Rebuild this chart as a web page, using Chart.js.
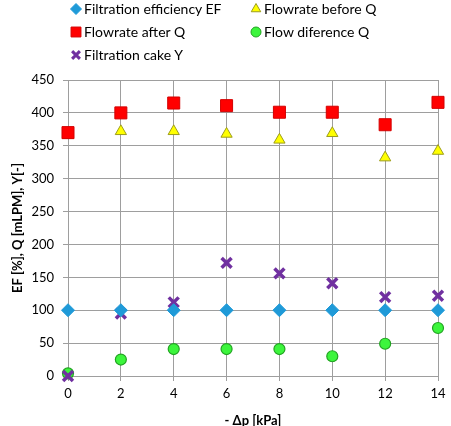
<!DOCTYPE html>
<html><head><meta charset="utf-8">
<script src="https://cdn.jsdelivr.net/npm/chart.js@4/dist/chart.umd.min.js"></script>
<style>
html,body{margin:0;padding:0;background:#fff;overflow:hidden;}
#wrap{position:relative;width:451px;height:426px;overflow:hidden;background:#fff;}
#c{position:absolute;left:0;top:0;}
#legend{position:absolute;left:0;top:0;width:451px;height:70px;font-family:Lato,"Open Sans",sans-serif;font-size:14px;color:#000;}
.item{position:absolute;white-space:nowrap;line-height:16px;height:16px;}
.item canvas{position:absolute;left:0;top:0;}
.item span{position:absolute;top:0;}
</style></head><body>
<div id="wrap"><canvas id="c" width="451" height="436" style="width:451px;height:436px"></canvas><div id="legend"></div></div>
<script>
// ---- data ----
const pressure   = [0, 2, 4, 6, 8, 10, 12, 14];              // - Δp [kPa]
const efficiency = [100, 100, 100, 100, 100, 100, 100, 100];  // EF [%]
const flowBefore = [366, 372, 372, 368, 359, 369, 332, 342];  // Q [mLPM]
const flowAfter  = [370, 400, 415, 411, 401, 401, 382, 416];  // Q [mLPM]
const flowDiff   = [4, 25, 41, 41, 41, 30, 49, 73];           // Q [mLPM]
const cake       = [0, 95, 112, 172, 156, 141, 120, 122];     // Y [-]
const seriesNames = ['Filtration efficiency EF', 'Flowrate before Q', 'Flowrate after Q', 'Flow diference Q', 'Filtration cake Y'];
const xTitle = '- Δp [kPa]';
const yTitle = 'EF [%], Q [mLPM], Y[-]';

const pts = arr => arr.map((v, i) => ({x: pressure[i], y: v}));
const FONT = 'Lato';
const GRID = '#9e9e9e';

const datasets = [
  {label: seriesNames[0], data: pts(efficiency), pointStyle: 'rectRot', pointRadius: 6.5, backgroundColor: '#1f9ad8', borderColor: '#1f9ad8', borderWidth: 1, order: 0},
  {label: seriesNames[1], data: pts(flowBefore), pointStyle: 'triangle', pointRadius: 6.5, backgroundColor: '#ffff00', borderColor: '#9c9c1c', borderWidth: 1, order: 4},
  {label: seriesNames[2], data: pts(flowAfter), pointStyle: 'rect', pointRadius: 8.5, backgroundColor: '#ff0000', borderColor: '#d40000', borderWidth: 1, order: 3},
  {label: seriesNames[3], data: pts(flowDiff), pointStyle: 'circle', pointRadius: 5.5, backgroundColor: '#3cf53c', borderColor: '#22a322', borderWidth: 1.2, order: 2},
  {label: seriesNames[4], data: pts(cake), pointStyle: 'crossRot', pointRadius: 7, backgroundColor: '#7030a0', borderColor: '#7030a0', borderWidth: 3.5, order: 1}
];
datasets.forEach(d => { d.showLine = false; d.clip = false; d.pointHoverRadius = d.pointRadius; });

const chart = new Chart(document.getElementById('c'), {
  type: 'scatter',
  data: {datasets},
  options: {
    responsive: false,
    animation: false,
    events: [],
    layout: {padding: {top: 80, right: 13, left: 0, bottom: 0}},
    plugins: {legend: {display: false}, tooltip: {enabled: false}},
    scales: {
      x: {
        type: 'linear', min: 0, max: 14,
        ticks: {stepSize: 2, color: '#000', font: {family: FONT, size: 13}, padding: 5},
        grid: {color: GRID, lineWidth: 1, tickLength: 5},
        border: {color: GRID},
        title: {display: true, text: xTitle, color: '#000', font: {family: FONT, size: 13, weight: 'bold'}, padding: {top: 0, bottom: 7}},
        afterFit: s => { s.height = 60; }
      },
      y: {
        type: 'linear', min: 0, max: 450,
        ticks: {stepSize: 50, color: '#000', font: {family: FONT, size: 13}, padding: 9},
        grid: {color: GRID, lineWidth: 1, tickLength: 5},
        border: {color: GRID},
        title: {display: true, text: yTitle, color: '#000', font: {family: FONT, size: 13, weight: 'bold'}, padding: {top: 10, bottom: 0}},
        afterFit: s => { s.width = 68; }
      }
    }
  }
});

// ---- HTML legend in two columns, markers drawn with Chart.js point helper ----
const legendPos = [[76, 9], [256, 9], [76, 32], [256, 32], [76, 55]];
const legend = document.getElementById('legend');
chart.data.datasets.forEach((ds, i) => {
  const [mx, my] = legendPos[i];
  const item = document.createElement('div');
  item.className = 'item';
  item.style.left = (mx - 8) + 'px';
  item.style.top = (my - 8) + 'px';
  const cv = document.createElement('canvas');
  cv.width = 16; cv.height = 16;
  const ctx = cv.getContext('2d');
  ctx.fillStyle = ds.backgroundColor;
  ctx.strokeStyle = ds.borderColor;
  ctx.lineWidth = ds.pointStyle === 'crossRot' ? 3 : 1;
  const r = ds.pointStyle === 'rect' ? 7 : (ds.pointStyle === 'circle' ? 5 : 5.5);
  if (Chart.helpers && Chart.helpers.drawPoint) {
    Chart.helpers.drawPoint(ctx, {pointStyle: ds.pointStyle, radius: r, borderWidth: ctx.lineWidth, rotation: 0}, 8, 8);
  }
  const sp = document.createElement('span');
  sp.style.left = '16px';
  sp.textContent = ds.label;
  item.appendChild(cv); item.appendChild(sp);
  legend.appendChild(item);
});
</script>
</body></html>
